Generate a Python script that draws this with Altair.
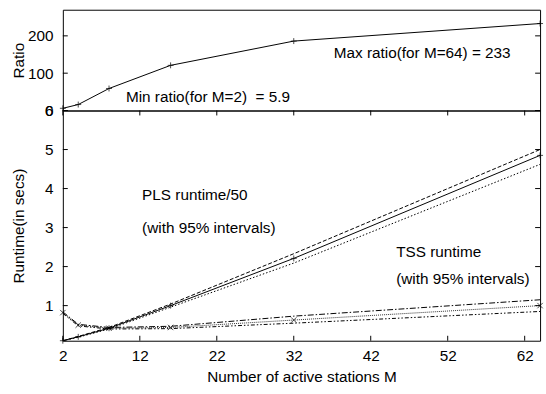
import altair as alt
import pandas as pd

# ---- data ----
M = [2, 4, 8, 16, 32, 64]
ratio = [5.9, 16, 59, 121, 186, 233]
pls = [0.10, 0.20, 0.42, 1.00, 2.21, 4.85]
pls_hi = [0.10, 0.21, 0.44, 1.04, 2.33, 5.00]
pls_lo = [0.10, 0.19, 0.40, 0.96, 2.09, 4.62]
tss = [0.82, 0.50, 0.42, 0.44, 0.63, 1.00]
tss_hi = [0.84, 0.52, 0.44, 0.47, 0.73, 1.15]
tss_lo = [0.80, 0.48, 0.40, 0.41, 0.55, 0.85]

x_ticks = [2, 12, 22, 32, 42, 52, 62]
ratio_ticks = [0, 100, 200]
runtime_ticks = [1, 2, 3, 4, 5, 6]

top_notes = ["Max ratio(for M=64) = 233", "Min ratio(for M=2)\u00a0\u00a0= 5.9"]
top_note_M = [37.2, 10.2]
top_note_val = [155, 36]
bottom_notes = ["PLS runtime/50", "(with 95% intervals)", "TSS runtime", "(with 95% intervals)"]
bottom_note_M = [12.3, 12.3, 45.3, 45.3]
bottom_note_val = [3.83, 2.98, 2.38, 1.69]

FONT = "Liberation Sans"
FS = 15.5
W, H1, H2 = 483, 102, 233
TL = 5  # inward tick length (px)
PLUS = "M-1,0L1,0M0,-1L0,1"
CROSS = "M-1,-1L1,1M-1,1L1,-1"

df = pd.DataFrame({"M": M, "ratio": ratio, "pls": pls, "pls_hi": pls_hi, "pls_lo": pls_lo,
                   "tss": tss, "tss_hi": tss_hi, "tss_lo": tss_lo})
df_xt = pd.DataFrame({"M": x_ticks})
df_rt = pd.DataFrame({"v": ratio_ticks})
df_yt = pd.DataFrame({"v": runtime_ticks})
df_tn = pd.DataFrame({"M": top_note_M, "v": top_note_val, "t": top_notes})
df_bn = pd.DataFrame({"M": bottom_note_M, "v": bottom_note_val, "t": bottom_notes})

xscale = alt.Scale(domain=[2, 64], nice=False, zero=False)
yscale_top = alt.Scale(domain=[0, 270], nice=False, zero=False)
yscale_bot = alt.Scale(domain=[0.1, 6], nice=False, zero=False)

X_TOP = alt.X("M:Q", scale=xscale, axis=None)
X_BOT_AXIS = alt.Axis(values=x_ticks, title="Number of active stations M",
                      labelPadding=8, titlePadding=6)
Y_TOP_AXIS = alt.Axis(values=ratio_ticks, title="Ratio", labelPadding=10, titlePadding=1)
Y_BOT_AXIS = alt.Axis(values=runtime_ticks, title="Runtime(in secs)", labelPadding=10, titlePadding=18)


def xb(field="M"):
    return alt.X(f"{field}:Q", scale=xscale, axis=X_BOT_AXIS, title="Number of active stations M")


def yt(field):
    return alt.Y(f"{field}:Q", scale=yscale_top, axis=Y_TOP_AXIS, title="Ratio")


def yb(field):
    return alt.Y(f"{field}:Q", scale=yscale_bot, axis=Y_BOT_AXIS, title="Runtime(in secs)")


# ---------------- top panel: ratio ----------------
base_top = alt.Chart(df)
ratio_line = base_top.mark_line(color="black", strokeWidth=1).encode(x=X_TOP, y=yt("ratio"))
ratio_pts = base_top.mark_point(shape=PLUS, size=36, filled=False, color="black",
                                strokeWidth=1).encode(x=X_TOP, y=yt("ratio"))
rt_left = alt.Chart(df_rt).mark_rule(color="black", strokeWidth=1).encode(
    y=yt("v"), x=alt.value(0), x2=alt.value(TL))
rt_right = alt.Chart(df_rt).mark_rule(color="black", strokeWidth=1).encode(
    y=yt("v"), x=alt.value(W - TL), x2=alt.value(W))
top_text = alt.Chart(df_tn).mark_text(align="left", baseline="middle", font=FONT,
                                      fontSize=FS, color="black").encode(
    x=X_TOP, y=yt("v"), text="t:N")
top = alt.layer(ratio_line, ratio_pts, rt_left, rt_right, top_text).properties(width=W, height=H1)

# ---------------- bottom panel: runtimes ----------------
base = alt.Chart(df)


def line(field, dash=None, color="black"):
    kw = dict(color=color, strokeWidth=1)
    if dash:
        kw["strokeDash"] = dash
    return base.mark_line(**kw).encode(x=xb(), y=yb(field))


pls_line = line("pls")
pls_hi_line = line("pls_hi", [4, 2])
pls_lo_line = line("pls_lo", [1.5, 2])
tss_line = line("tss", [1, 1], color="#333333")
tss_hi_line = line("tss_hi", [6, 2, 1.5, 2])
tss_lo_line = line("tss_lo", [4, 2, 1.5, 2, 1.5, 2])
pls_pts = base.mark_point(shape=PLUS, size=36, filled=False, color="black",
                          strokeWidth=1).encode(x=xb(), y=yb("pls"))
tss_pts = base.mark_point(shape=CROSS, size=30, filled=False, color="black",
                          strokeWidth=1).encode(x=xb(), y=yb("tss"))
yt_left = alt.Chart(df_yt).mark_rule(color="black", strokeWidth=1).encode(
    y=yb("v"), x=alt.value(0), x2=alt.value(TL))
yt_right = alt.Chart(df_yt).mark_rule(color="black", strokeWidth=1).encode(
    y=yb("v"), x=alt.value(W - TL), x2=alt.value(W))
xt_bottom = alt.Chart(df_xt).mark_rule(color="black", strokeWidth=1).encode(
    x=xb(), y=alt.value(H2), y2=alt.value(H2 - TL))
xt_top = alt.Chart(df_xt).mark_rule(color="black", strokeWidth=1).encode(
    x=xb(), y=alt.value(0), y2=alt.value(TL))
bot_text = alt.Chart(df_bn).mark_text(align="left", baseline="middle", font=FONT,
                                      fontSize=FS, color="black").encode(
    x=xb(), y=yb("v"), text="t:N")
bottom = alt.layer(pls_line, pls_hi_line, pls_lo_line, tss_line, tss_hi_line, tss_lo_line,
                   pls_pts, tss_pts, yt_left, yt_right, xt_bottom, xt_top, bot_text
                   ).properties(width=W, height=H2)

chart = alt.vconcat(top, bottom, spacing=0, bounds="flush").properties(
    padding={"left": 10.6, "top": 6.5, "right": 0, "bottom": 0},
    background="white",
).configure_view(
    stroke="black", strokeWidth=1
).configure_axis(
    labelFont=FONT, labelFontSize=FS, labelColor="black",
    titleFont=FONT, titleFontSize=FS, titleColor="black", titleFontWeight="normal",
    ticks=False, domain=False, grid=False, labelFlush=False, labelOverlap=False,
    labelBound=False,
)

chart.save("out.html", embed_options={"renderer": "svg", "actions": False})
